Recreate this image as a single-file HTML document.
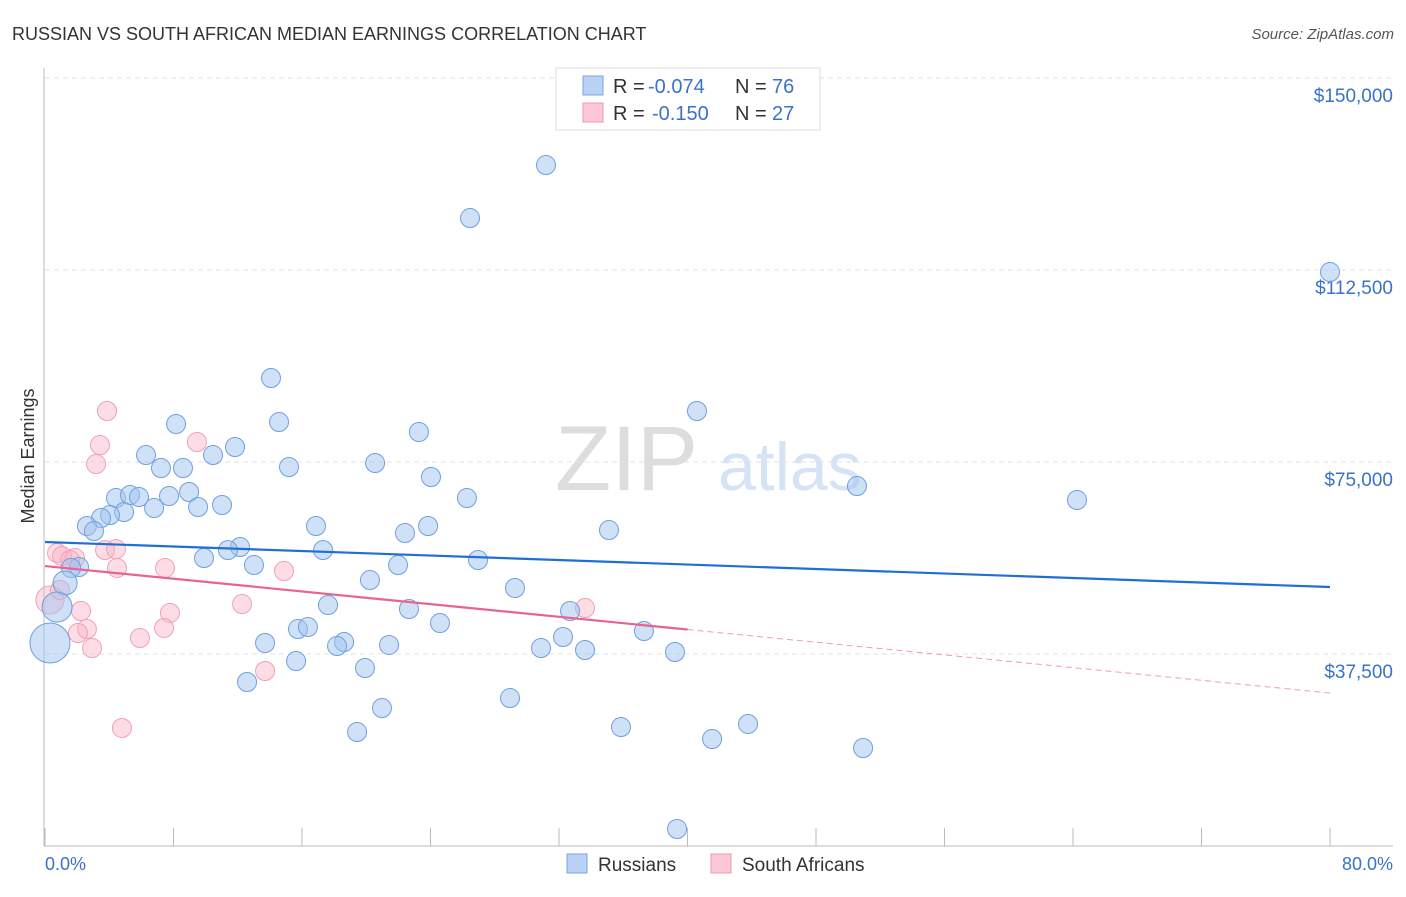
<!DOCTYPE html>
<html><head><meta charset="utf-8"><style>
body{margin:0;background:#fff;font-family:"Liberation Sans",sans-serif;}
svg text{font-family:"Liberation Sans",sans-serif;}
</style></head><body>
<svg id="chart" width="1406" height="892" xmlns="http://www.w3.org/2000/svg">
<text x="12" y="40" font-size="18" fill="#333">RUSSIAN VS SOUTH AFRICAN MEDIAN EARNINGS CORRELATION CHART</text>
<text x="1394" y="39" font-size="15" fill="#555" font-style="italic" text-anchor="end">Source: ZipAtlas.com</text>
<text x="34" y="456" font-size="18" fill="#333" text-anchor="middle" transform="rotate(-90 34 456)">Median Earnings</text>
<text x="555" y="490" font-size="92" fill="#ddd" font-family="Liberation Serif">ZIP</text>
<text x="718" y="490" font-size="68" fill="#d6e3f5">atlas</text>
<g id="grid"></g><g id="pts"></g><g id="lines"></g>
<g>
<rect x="556" y="68" width="264" height="62" fill="#fff" stroke="#ddd"/>
<rect x="583" y="76" width="20" height="19" fill="#b9d2f5" stroke="#7ba6e4"/>
<rect x="583" y="103" width="20" height="19" fill="#fcc8d6" stroke="#ee9ab2"/>
<text x="613" y="93" font-size="20" fill="#333">R =</text>
<text x="648" y="93" font-size="20" fill="#3a72c9">-0.074</text>
<text x="735" y="93" font-size="20" fill="#333">N =</text>
<text x="772" y="93" font-size="20" fill="#3a72c9">76</text>
<text x="613" y="120" font-size="20" fill="#333">R =</text>
<text x="652" y="120" font-size="20" fill="#3a72c9">-0.150</text>
<text x="735" y="120" font-size="20" fill="#333">N =</text>
<text x="772" y="120" font-size="20" fill="#3a72c9">27</text>
</g>
<g>
<rect x="567" y="854" width="20" height="19" fill="#b9d2f5" stroke="#7ba6e4"/>
<text x="598" y="871" font-size="19" fill="#333">Russians</text>
<rect x="711" y="854" width="20" height="19" fill="#fcc8d6" stroke="#ee9ab2"/>
<text x="742" y="871" font-size="19" fill="#333">South Africans</text>
</g>
<text x="45" y="870" font-size="18" fill="#3a72c9">0.0%</text>
<text x="1393" y="870" font-size="18" fill="#3a72c9" text-anchor="end">80.0%</text>
</svg>
<script>
const yTicks=[37500,75000,112500,150000];
const yTickLabels=["$37,500","$75,000","$112,500","$150,000"];
const xTicks=[0,8,16,24,32,40,48,56,64,72,80];
const ruX=[31.19,26.46,80,14.07,40.59,14.57,23.28,8.16,11.83,6.29,10.46,20.55,7.22,8.59,15.19,24.03,50.55,8.97,4.42,5.29,5.85,7.72,26.27,64.25,9.53,11.02,6.79,4.92,4.05,3.49,2.61,3.05,16.87,23.85,35.11,22.41,12.14,11.39,17.31,9.9,26.96,13.01,21.98,2.12,1.62,20.23,1.25,29.26,0.75,17.62,22.66,32.69,24.59,15.75,16.37,37.29,32.25,0.31,13.7,18.62,18.18,21.42,30.88,33.62,39.22,15.63,19.92,12.58,28.95,20.98,43.77,35.86,19.43,41.53,50.93,39.35];
const ruY=[133000,122650,112100,91400,84960,82810,80860,82420,77930,76360,76360,74800,73820,73820,74020,72070,70310,69140,67960,68550,68160,68350,67960,67570,66200,66600,66010,65230,64640,64060,62500,61520,62500,62500,61710,61130,58390,57800,57800,56250,55860,54880,54880,54490,54300,51950,51370,50390,46680,47070,46290,45900,43550,42380,42770,41990,40820,39650,39650,39840,39060,39260,38670,38280,37890,36130,34760,32030,28900,26950,23830,23240,22260,20900,19140,3320];
const ruR={46:12,48:15,57:20};
const saX=[3.86,3.42,9.46,3.18,0.75,1.06,1.87,1.56,3.74,4.42,4.48,7.47,14.88,0.31,12.27,33.62,2.24,7.78,2.61,2.05,7.41,5.91,2.93,13.7,4.79,0.93];
const saY=[84960,78320,78900,74600,57220,56640,56250,55860,57800,57990,54300,54300,53710,48040,47260,46480,45900,45510,42380,41600,42580,40620,38670,34180,23050,50000];
const saR={13:14};
const ruTrend=[59370,50580];
const saTrend=[54680,29880];
const X=v=>45+v/80*1285, Y=v=>846-v/37500*192;
const NS="http://www.w3.org/2000/svg";
function mk(tag,attrs,parent){const e=document.createElementNS(NS,tag);for(const k in attrs)e.setAttribute(k,attrs[k]);parent.appendChild(e);return e;}
const grid=document.getElementById('grid');
mk('line',{x1:44,y1:68,x2:44,y2:846,stroke:'#bbb'},grid);
mk('line',{x1:44,y1:846,x2:1393,y2:846,stroke:'#bbb'},grid);
yTicks.forEach((t,i)=>{
 const l=mk('line',{x1:45,x2:1393,y1:Y(t),y2:Y(t),stroke:'#e2e2e2','stroke-dasharray':'5,4'},grid);
 
 
 const tx=mk('text',{x:1393,y:Y(t)+24,'font-size':19,fill:'#3a72c9','text-anchor':'end'},grid);
 tx.textContent=yTickLabels[i];
 
 
});
xTicks.forEach(t=>{
 const l=mk('line',{x1:X(t),x2:X(t),y1:828,y2:846,stroke:'#bbb'},grid);
 
 
});
const pts=document.getElementById('pts');
saX.forEach((v,i)=>{
 const c=mk('circle',{cx:X(v),cy:Y(saY[i]),r:saR[i]||9.5,fill:'rgba(248,180,200,0.45)',stroke:'#f0a0b8','stroke-width':1},pts);
 
 
});
ruX.forEach((v,i)=>{
 const c=mk('circle',{cx:X(v),cy:Y(ruY[i]),r:ruR[i]||9.5,fill:'rgba(160,195,240,0.5)',stroke:'#6f9fe0','stroke-width':1},pts);
 
 
});
const lines=document.getElementById('lines');
const bl=mk('line',{x1:X(0),y1:Y(ruTrend[0]),x2:X(80),y2:Y(ruTrend[1]),stroke:'#1f6fd6','stroke-width':2.2},lines);


const sm=saTrend[0]+(saTrend[1]-saTrend[0])*(40/80);
const pl=mk('line',{x1:X(0),y1:Y(saTrend[0]),x2:X(40),y2:Y(sm),stroke:'#e8648c','stroke-width':2.2},lines);


const pd=mk('line',{x1:X(40),y1:Y(sm),x2:X(80),y2:Y(saTrend[1]),stroke:'#e8a0b6','stroke-width':1,'stroke-dasharray':'6,4'},lines);


</script>
</body></html>
